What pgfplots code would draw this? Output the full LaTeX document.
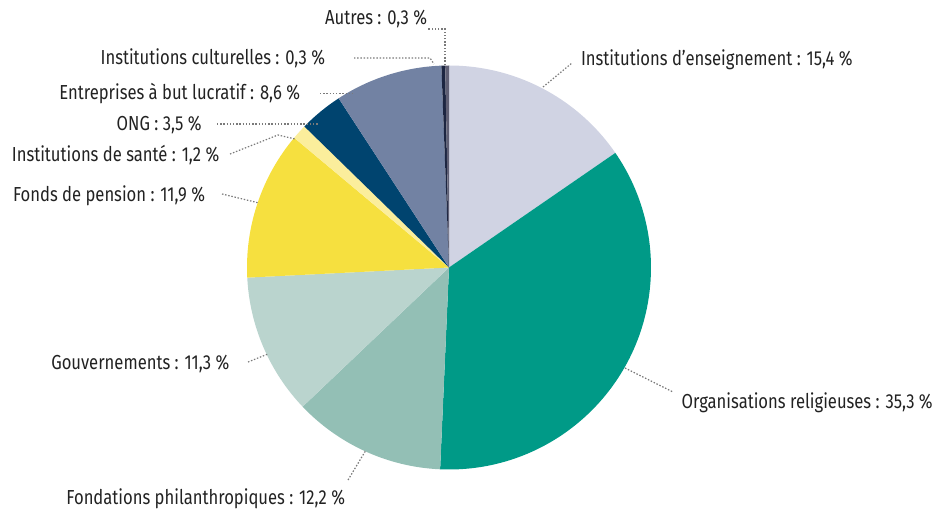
\documentclass[border=0pt]{standalone}
\usepackage{pgfplots}
\pgfplotsset{compat=1.18}
\usepackage{pgfplotstable}
\usepackage{fontspec}
\setmainfont{Fira Sans}[FakeStretch=0.82]

\definecolor{cEns}{HTML}{D0D3E3}
\definecolor{cRel}{HTML}{009A87}
\definecolor{cFond}{HTML}{93BFB5}
\definecolor{cGouv}{HTML}{BAD4CE}
\definecolor{cPens}{HTML}{F6E03F}
\definecolor{cSante}{HTML}{FBEE9C}
\definecolor{cONG}{HTML}{00446F}
\definecolor{cEntr}{HTML}{7282A3}
\definecolor{cCult}{HTML}{1C2541}
\definecolor{cAutres}{HTML}{5F5F74}
\definecolor{txt}{HTML}{222222}
\definecolor{lead}{HTML}{7A7A7A}

% share of each slice, clockwise from the top
\pgfplotstableread[col sep=comma]{
value,col
15.4,cEns
35.3,cRel
12.2,cFond
11.3,cGouv
11.9,cPens
1.2,cSante
3.5,cONG
8.6,cEntr
0.3,cCult
0.3,cAutres
}\piedata

% pie centre and radius, in axis units (1 unit = 1 px)
\def\cx{449}
\def\cy{243.5}
\def\rr{202}

% build one \addplot per slice (angles from the shares)
\pgfplotstablegetrowsof{\piedata}
\pgfmathtruncatemacro\nlast{\pgfplotsretval-1}
\def\cum{90}
\def\slices{}
\pgfplotsforeachungrouped \k in {0,...,\nlast}{%
    \pgfplotstablegetelem{\k}{value}\of\piedata \let\sv\pgfplotsretval
    \pgfplotstablegetelem{\k}{col}\of\piedata \let\scol\pgfplotsretval
    \pgfmathsetmacro\sa{\cum}%
    \pgfmathsetmacro\sbb{\cum-3.6*\sv}%
    \pgfmathsetmacro\xa{\cx+\rr*cos(\sa)}%
    \pgfmathsetmacro\ya{\cy+\rr*sin(\sa)}%
    \pgfmathsetmacro\xb{\cx+\rr*cos(\sbb)}%
    \pgfmathsetmacro\yb{\cy+\rr*sin(\sbb)}%
    \edef\slices{\unexpanded\expandafter{\slices}%
        \noexpand\addplot[fill=\scol, draw=none]
        coordinates {(\xa,\ya) (\cx,\cy) (\xb,\yb)}
        arc[start angle=\sbb, end angle=\sa, radius=151.5pt] -- cycle;}%
    \let\cum\sbb
}

\begin{document}
\begin{tikzpicture}
\begin{axis}[
    at={(0,0)}, anchor=south west,
    scale only axis, width=705pt, height=383.25pt,
    xmin=0, xmax=940, ymin=0, ymax=511,
    hide axis, clip=false,
]
\slices

% leader lines
\begin{scope}[lead, line width=0.9pt, dash pattern=on 1.1pt off 1.3pt]
\draw (445,446) -- (445,482) -- (428,482);
\draw (354,453) -- (430,453) -- (434,447);
\draw (320,417.5) -- (354,417.5);
\draw (217,387) -- (318,387);
\draw (230,357) -- (278,376) -- (295,372);
\draw (222,317) -- (259,308);
\draw (248,149) -- (268,157);
\draw (348,31) -- (366,61);
\draw (625,143) -- (673,119);
\draw (543,424) -- (572,448);
\end{scope}

% labels
\begin{scope}[every node/.style={inner sep=0pt, outer sep=0pt, text=txt,
    font=\fontsize{15.2pt}{18pt}\selectfont}]
\node[anchor=base east] at (427,486) {Autres : 0,3 \%};
\node[anchor=base east] at (325,446) {Institutions culturelles : 0,3 \%};
\node[anchor=base east] at (300,411.5) {Entreprises à but lucratif : 8,6 \%};
\node[anchor=base east] at (201.7,380.3) {ONG : 3,5 \%};
\node[anchor=base east] at (219.3,349) {Institutions de santé : 1,2 \%};
\node[anchor=base east] at (205,309.3) {Fonds de pension : 11,9 \%};
\node[anchor=base east] at (229.3,141.7) {Gouvernements : 11,3 \%};
\node[anchor=base east] at (345,6) {Fondations philanthropiques : 12,2 \%};
\node[anchor=base west] at (681.7,102.7) {Organisations religieuses : 35,3 \%};
\node[anchor=base west] at (581,445) {Institutions d’enseignement : 15,4 \%};
\end{scope}
\end{axis}
\pgfresetboundingbox
\path[use as bounding box] (0,0) rectangle (705pt,383.25pt);
\end{tikzpicture}
\end{document}
